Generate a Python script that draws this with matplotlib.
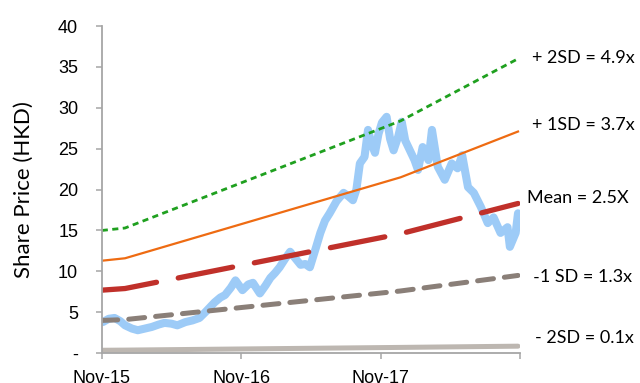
import matplotlib
matplotlib.use("Agg")
import matplotlib.pyplot as plt

# months since Nov-15
PRICE_M = [0.1, 0.6, 1.1, 1.6, 2.0, 2.6, 3.1, 3.7, 4.3, 4.9, 5.4, 6.0, 6.5, 7.2,
           7.8, 8.4, 8.9, 9.3, 9.7, 10.2, 10.6, 11.1, 11.5, 12.1, 12.6, 13.0,
           13.6, 14.1, 14.5, 14.9, 15.3, 15.8, 16.2, 16.7, 17.1, 17.5, 17.9,
           18.4, 18.8, 19.2, 19.6, 20.2, 20.8, 21.2, 21.6, 21.9, 22.2, 22.6,
           22.9, 23.2, 23.5, 23.8, 24.1, 24.5, 24.8, 25.1, 25.5, 25.8, 26.1,
           26.5, 26.9, 27.2, 27.6, 28.1, 28.4, 28.9, 29.5, 30.1, 30.6, 31.0,
           31.5, 32.0, 32.6, 33.2, 33.7, 34.3, 34.9, 35.1, 35.6, 35.8]
PRICE = [3.8, 4.2, 4.3, 3.9, 3.4, 3.0, 2.8, 3.0, 3.2, 3.5, 3.7, 3.6, 3.4, 3.8,
         4.0, 4.3, 5.0, 5.6, 6.2, 6.8, 7.1, 8.0, 8.9, 7.7, 8.4, 8.6,
         7.3, 8.3, 9.2, 9.8, 10.5, 11.6, 12.4, 11.5, 10.8, 10.9, 10.5,
         12.8, 14.7, 16.2, 17.1, 18.6, 19.6, 19.2, 18.7, 20.0, 23.2, 24.0,
         27.3, 25.6, 24.5, 26.8, 28.2, 28.9, 26.2, 24.8, 26.5, 28.3, 26.0,
         24.8, 23.6, 22.4, 25.2, 23.6, 27.3, 22.8, 21.2, 23.2, 22.6, 24.2,
         20.3, 19.6, 17.9, 15.9, 16.6, 14.7, 15.4, 13.0, 14.7, 17.1]

BAND_M = [0.0, 2.0, 25.7, 35.8]
PLUS_2SD = [15.0, 15.3, 28.4, 36.0]
PLUS_1SD = [11.3, 11.6, 21.5, 27.1]
MEAN = [7.7, 7.9, 14.6, 18.3]
MINUS_1SD = [4.0, 4.1, 7.6, 9.5]
MINUS_2SD = [0.35, 0.37, 0.7, 0.85]

BAND_LABELS = ["+ 2SD = 4.9x", "+ 1SD = 3.7x", "Mean = 2.5X", "\u02d71 SD = 1.3x", "- 2SD = 0.1x"]
BAND_LABEL_Y = [36.1, 27.9, 19.0, 9.3, 1.8]
BAND_LABEL_X = [37.0, 37.0, 36.6, 37.1, 37.3]

X_TICKS = [0, 12, 24, 36]
X_TICK_LABELS = ["Nov-15", "Nov-16", "Nov-17", ""]
Y_TICKS = [0, 5, 10, 15, 20, 25, 30, 35, 40]
Y_TICK_LABELS = ["-", "5", "10", "15", "20", "25", "30", "35", "40"]

plt.rcParams["font.family"] = ["Liberation Sans", "DejaVu Sans"]

fig = plt.figure(figsize=(6.4, 3.83), dpi=100)
ax = fig.add_axes([0.159, 0.078, 0.654, 0.854])

ax.plot(PRICE_M, PRICE, color="#9DCBF7", linewidth=5.8,
        solid_joinstyle="round", solid_capstyle="round", zorder=1)
ax.plot(BAND_M, MINUS_2SD, color="#BDB7B1", linewidth=3.6,
        solid_capstyle="round", zorder=2)
ax.plot(BAND_M, MINUS_1SD, color="#8A7F78", linewidth=3.6,
        dashes=(3.2, 2.2), dash_capstyle="round", zorder=2)
ax.plot(BAND_M, MEAN, color="#C0302A", linewidth=3.8,
        dashes=(10.5, 4.2), dash_capstyle="round", zorder=2)
ax.plot(BAND_M, PLUS_1SD, color="#EE6B12", linewidth=1.6, zorder=2)
ax.plot(BAND_M, PLUS_2SD, color="#1FA01F", linewidth=2.0,
        dashes=(2.2, 1.6), zorder=2)

for label, lx, ly in zip(BAND_LABELS, BAND_LABEL_X, BAND_LABEL_Y):
    ax.text(lx, ly, label, fontsize=13, family=["Lato", "DejaVu Sans"],
            ha="left", va="center", clip_on=False)

ax.set_xlim(0, 36)
ax.set_ylim(0, 40)
ax.set_xticks(X_TICKS)
ax.set_xticklabels(X_TICK_LABELS)
ax.set_yticks(Y_TICKS)
ax.set_yticklabels(Y_TICK_LABELS)
ax.tick_params(axis="both", labelsize=13, color="#A6A6A6", length=4, width=1.1)
ax.tick_params(axis="y", pad=13)
ax.tick_params(axis="x", pad=8)

for side in ["top", "right"]:
    ax.spines[side].set_visible(False)
for side in ["left", "bottom"]:
    ax.spines[side].set_color("#A6A6A6")
    ax.spines[side].set_linewidth(1.3)

ax.set_ylabel("Share Price (HKD)", fontsize=16, family=["Lato", "DejaVu Sans"])
ax.yaxis.set_label_coords(-0.163, 0.5)

fig.savefig("out.png", dpi=100)
